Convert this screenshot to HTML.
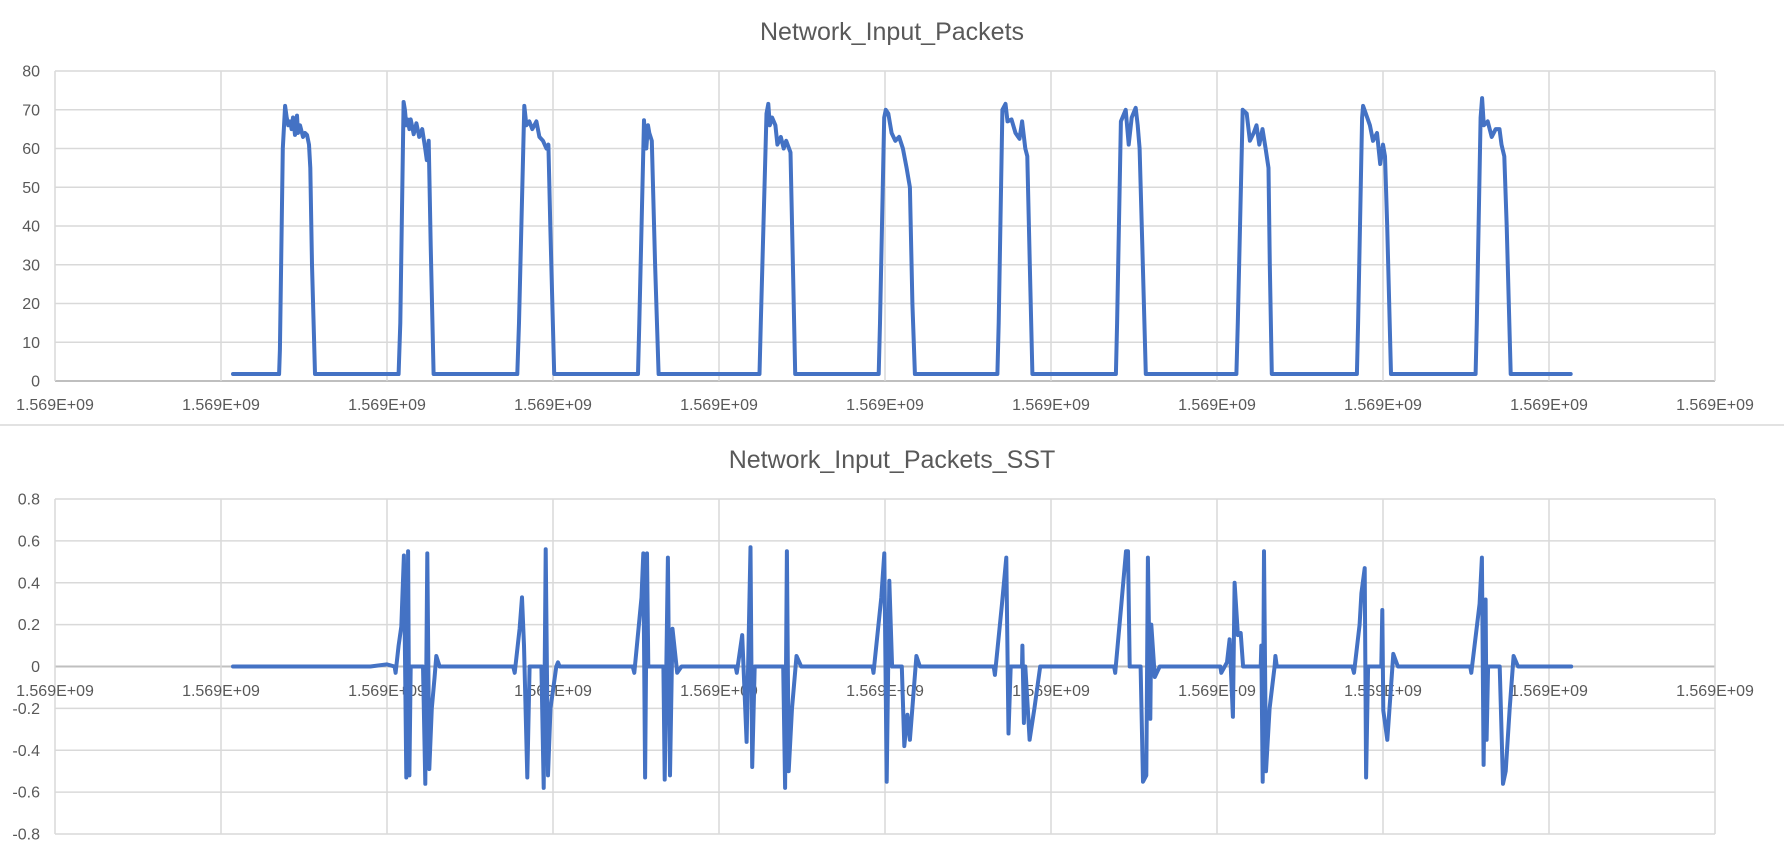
<!DOCTYPE html>
<html><head><meta charset="utf-8">
<style>
html,body{margin:0;padding:0;background:#fff;}
svg{display:block;font-family:"Liberation Sans",sans-serif;}
</style></head>
<body>
<svg id="root" width="1784" height="856" viewBox="0 0 1784 856">
  <text x="892" y="40" text-anchor="middle" font-size="25" fill="#595959">Network_Input_Packets</text>
  <g id="top"></g>
  <line x1="0" y1="425" x2="1784" y2="425" stroke="#d9d9d9" stroke-width="1.5"/>
  <text x="892" y="468" text-anchor="middle" font-size="25" fill="#595959">Network_Input_Packets_SST</text>
  <g id="bot"></g>
</svg>
<script>
// ---- data ----
const xTickLabels = ["1.569E+09","1.569E+09","1.569E+09","1.569E+09","1.569E+09","1.569E+09","1.569E+09","1.569E+09","1.569E+09","1.569E+09","1.569E+09"];
const topYTicks = [0,10,20,30,40,50,60,70,80];
const botYTicks = [-0.8,-0.6,-0.4,-0.2,0,0.2,0.4,0.6,0.8];
const botYLabels = ["-0.8","-0.6","-0.4","-0.2","0","0.2","0.4","0.6","0.8"];
const inputPackets = [
 [1.072,1.8],[1.35,1.8],[1.355,8],[1.372,60],[1.386,71],[1.396,68],[1.405,66],[1.416,67],[1.425,65],[1.434,68],[1.446,63.5],[1.458,68.5],[1.464,64],[1.476,66],[1.488,64],[1.494,63],[1.506,64],[1.518,63.5],[1.53,61],[1.538,55],[1.548,30],[1.566,1.8],
 [2.07,1.8],[2.08,15],[2.1,72],[2.108,70],[2.116,66],[2.124,67.5],[2.135,65],[2.143,67.5],[2.161,63.7],[2.177,66.5],[2.194,63],[2.212,65],[2.23,60],[2.24,57],[2.251,62],[2.263,35],[2.281,1.8],
 [2.785,1.8],[2.795,15],[2.827,71],[2.84,66],[2.857,67],[2.875,65],[2.9,67],[2.918,63],[2.94,62],[2.96,60],[2.972,61],[2.984,40],[3.007,1.8],
 [3.512,1.8],[3.52,15],[3.548,67.3],[3.556,61],[3.562,60],[3.572,66],[3.58,64],[3.595,62],[3.615,30],[3.636,1.8],
 [4.244,1.8],[4.252,15],[4.286,69],[4.297,71.5],[4.306,66],[4.32,68],[4.34,66],[4.352,61],[4.372,63],[4.39,60],[4.405,62],[4.431,59],[4.445,30],[4.459,1.8],
 [4.962,1.8],[4.97,15],[4.995,68],[5.005,70],[5.02,69],[5.04,64],[5.062,62],[5.085,63],[5.108,60],[5.13,55],[5.15,50],[5.165,20],[5.18,1.8],
 [5.677,1.8],[5.685,15],[5.707,70],[5.726,71.5],[5.738,67],[5.762,67.5],[5.786,64],[5.81,62.5],[5.826,67],[5.845,60],[5.857,58],[5.872,30],[5.888,1.8],
 [6.391,1.8],[6.398,15],[6.421,67],[6.45,70],[6.468,61],[6.486,68],[6.51,70.5],[6.522,66],[6.534,60],[6.55,35],[6.571,1.8],
 [7.117,1.8],[7.125,15],[7.155,70],[7.179,69],[7.198,62],[7.221,64],[7.238,66],[7.255,61],[7.274,65],[7.293,60],[7.31,55],[7.318,30],[7.33,1.8],
 [7.843,1.8],[7.85,15],[7.874,68],[7.88,71],[7.905,68],[7.921,66],[7.94,62],[7.964,64],[7.983,56],[8.0,61],[8.012,58],[8.025,40],[8.048,1.8],
 [8.558,1.8],[8.565,15],[8.588,68],[8.597,73],[8.607,66],[8.631,67],[8.655,63],[8.679,65],[8.702,65],[8.714,61],[8.731,58],[8.745,40],[8.769,1.8],
 [9.131,1.8]
];
const sstValues = [
 [1.072,0],[1.9,0],[2.0,0.01],[2.046,0],[2.052,-0.03],[2.07,0.1],[2.086,0.19],[2.102,0.53],[2.116,-0.53],[2.127,0.55],[2.135,-0.52],[2.143,0],[2.217,0],[2.231,-0.56],[2.243,0.54],[2.255,-0.49],[2.27,-0.2],[2.287,-0.05],[2.297,0.05],[2.317,0],
 [2.76,0],[2.769,-0.03],[2.799,0.18],[2.813,0.33],[2.825,0.1],[2.845,-0.53],[2.859,0],[2.93,0],[2.944,-0.58],[2.956,0.56],[2.97,-0.52],[2.985,-0.2],[3.02,0],[3.03,0.02],[3.04,0],
 [3.48,0],[3.49,-0.03],[3.533,0.33],[3.544,0.54],[3.555,-0.53],[3.566,0.54],[3.574,0],[3.665,0],[3.673,-0.54],[3.692,0.52],[3.705,-0.52],[3.72,0.18],[3.748,-0.03],[3.774,0],
 [4.1,0],[4.107,-0.03],[4.14,0.15],[4.166,-0.36],[4.19,0.57],[4.2,-0.48],[4.215,0],[4.387,0],[4.398,-0.58],[4.409,0.55],[4.42,-0.5],[4.44,-0.2],[4.467,0.05],[4.495,0],
 [4.925,0],[4.931,-0.03],[4.978,0.33],[4.996,0.54],[5.01,-0.55],[5.026,0.41],[5.043,0],[5.101,0],[5.116,-0.38],[5.135,-0.23],[5.15,-0.35],[5.189,0.05],[5.21,0],
 [5.655,0],[5.662,-0.04],[5.705,0.3],[5.731,0.52],[5.744,-0.32],[5.757,0],[5.825,0],[5.828,0.1],[5.837,-0.27],[5.845,0],[5.86,-0.2],[5.871,-0.35],[5.9,-0.2],[5.935,0],
 [6.38,0],[6.387,-0.03],[6.424,0.3],[6.452,0.55],[6.464,0.55],[6.474,0],[6.54,0],[6.554,-0.55],[6.574,-0.52],[6.584,0.52],[6.598,-0.25],[6.604,0.2],[6.625,-0.05],[6.655,0],
 [7.02,0],[7.026,-0.03],[7.06,0.02],[7.076,0.13],[7.096,-0.24],[7.106,0.4],[7.126,0.15],[7.143,0.16],[7.157,0],[7.263,0],[7.267,0.1],[7.275,-0.55],[7.283,0.55],[7.295,-0.5],[7.317,-0.2],[7.347,0],[7.352,0.05],[7.36,0],
 [7.815,0],[7.825,-0.03],[7.859,0.2],[7.87,0.35],[7.89,0.47],[7.898,-0.53],[7.91,0],[7.99,0],[7.996,0.27],[8.002,-0.21],[8.026,-0.35],[8.062,0.06],[8.09,0],
 [8.525,0],[8.532,-0.03],[8.582,0.3],[8.596,0.52],[8.606,-0.47],[8.618,0.32],[8.624,-0.35],[8.633,0],[8.703,0],[8.723,-0.56],[8.739,-0.5],[8.763,-0.2],[8.787,0.05],[8.813,0],[9.134,0]
];

// ---- axes ----
const NS="http://www.w3.org/2000/svg";
const plotL=55, plotR=1715;
function xPos(u){return plotL+(plotR-plotL)*u/10;}
function yTop(v){return 381-(381-71)*v/80;}
function yBot(v){return 666.5-(834-499)/1.6*v;}
function mk(parent,tag,attrs){const e=document.createElementNS(NS,tag);for(const k in attrs)e.setAttribute(k,attrs[k]);parent.appendChild(e);return e;}

function drawChart(g,yFn,yTicks,yLabels,xLabelY,pts,zeroVal,name){
  yTicks.forEach((t,i)=>{
    const y=yFn(t);
    const ln=mk(g,'line',{x1:plotL,x2:plotR,y1:y,y2:y,stroke:(t===zeroVal)?'#bfbfbf':'#d9d9d9','stroke-width':(t===zeroVal)?2:1.5});
    
    
    const tx=mk(g,'text',{x:40,y:y+5.5,'text-anchor':'end','font-size':16,fill:'#595959'});
    tx.textContent=yLabels[i];
    
    
  });
  xTickLabels.forEach((lab,i)=>{
    const x=xPos(i);
    const ln=mk(g,'line',{x1:x,x2:x,y1:yFn(yTicks[yTicks.length-1]),y2:yFn(yTicks[0]),stroke:'#d9d9d9','stroke-width':1.5});
    
    
    const tx=mk(g,'text',{x:x,y:xLabelY,'text-anchor':'middle','font-size':16,fill:'#595959'});
    tx.textContent=lab;
    
    
  });
  const d=pts.map((p,i)=>(i?'L':'M')+xPos(p[0]).toFixed(1)+','+yFn(p[1]).toFixed(1)).join(' ');
  const path=mk(g,'path',{d:d,fill:'none',stroke:'#4472c4','stroke-width':4,'stroke-linejoin':'round','stroke-linecap':'round'});
  
  
}
drawChart(document.getElementById('top'),yTop,topYTicks,topYTicks.map(String),410,inputPackets,0,'input-packets-line');
drawChart(document.getElementById('bot'),yBot,botYTicks,botYLabels,696,sstValues,0,'sst-line');
</script>
</body></html>
